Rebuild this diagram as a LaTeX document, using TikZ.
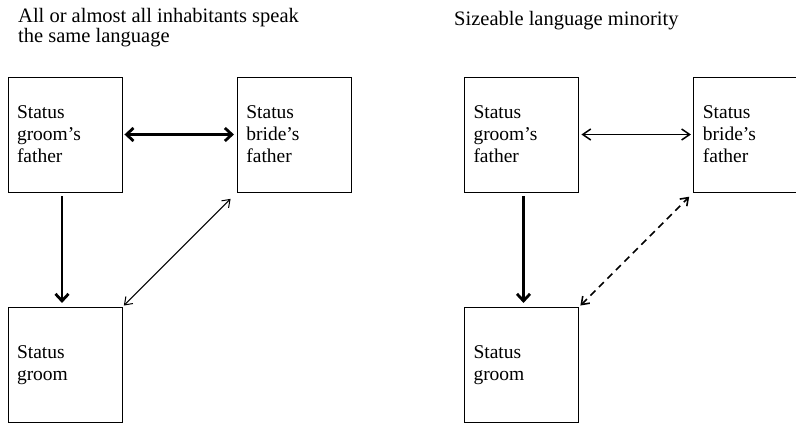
\documentclass[tikz,border=0pt]{standalone}
\usepackage{fontspec}
\setmainfont{Liberation Serif}
\usetikzlibrary{arrows.meta, positioning}
\tikzset{
  statusbox/.style={rectangle, draw=black, line width=0.9pt, minimum width=114pt, minimum height=115pt,
    inner xsep=9pt, text width=96pt, align=left, font=\fontsize{19.5}{22}\selectfont},
  heading/.style={anchor=base west, inner sep=0pt, align=left, font=\fontsize{20.5}{17.7}\selectfont},
  heavyarrow/.style={line width=2.8pt, >={Straight Barb[length=7pt,width=13pt]}},
  midarrow/.style={line width=1.5pt, >={Straight Barb[length=8pt,width=11pt]}},
  lightarrow/.style={line width=1pt, >={Straight Barb[length=7pt,width=10pt]}},
  dasharrow/.style={line width=1.6pt, dash pattern=on 7pt off 5pt, >={Straight Barb[length=7pt,width=10pt]}}
}

\begin{document}
\begin{tikzpicture}[x=1pt, y=-1pt, node distance=114.5pt]
\useasboundingbox (0,0) rectangle (796,424);

% same language (base is the last line)
\node (titleL) [heading] at (18,42.5) {All or almost all inhabitants speak\\the same language};
\node (gfatherL) [statusbox] at (65,134.5) {Status\\groom's\\father};
\node (bfatherL) [statusbox, right=of gfatherL] {Status\\bride's\\father};
\node (groomL) [statusbox, below=of gfatherL] {Status\\groom};

\draw [heavyarrow, <->, shorten <=2pt, shorten >=3pt] (gfatherL) -- (bfatherL);
\draw [heavyarrow, ->, shorten <=4pt, shorten >=4pt] ([xshift=-3pt]gfatherL.south) -- ([xshift=-3pt]groomL.north);
\draw [lightarrow, <->, shorten <=2pt, shorten >=9pt] (groomL.north east) -- (bfatherL.south west);

% language minority
\node (titleR) [heading] at (454,25) {Sizeable language minority};
\node (gfatherR) [statusbox] at (521.5,134.5) {Status\\groom's\\father};
\node (bfatherR) [statusbox, right=of gfatherR] {Status\\bride's\\father};
\node (groomR) [statusbox, below=of gfatherR] {Status\\groom};

\draw [midarrow, <->, shorten <=2.5pt, shorten >=2.5pt] (gfatherR) -- (bfatherR);
\draw [heavyarrow, ->, shorten <=4pt, shorten >=4pt] ([xshift=2pt]gfatherR.south) -- ([xshift=2pt]groomR.north);
\draw [dasharrow, <->, shorten <=2pt, shorten >=6pt] (groomR.north east) -- (bfatherR.south west);
\end{tikzpicture}
\end{document}
